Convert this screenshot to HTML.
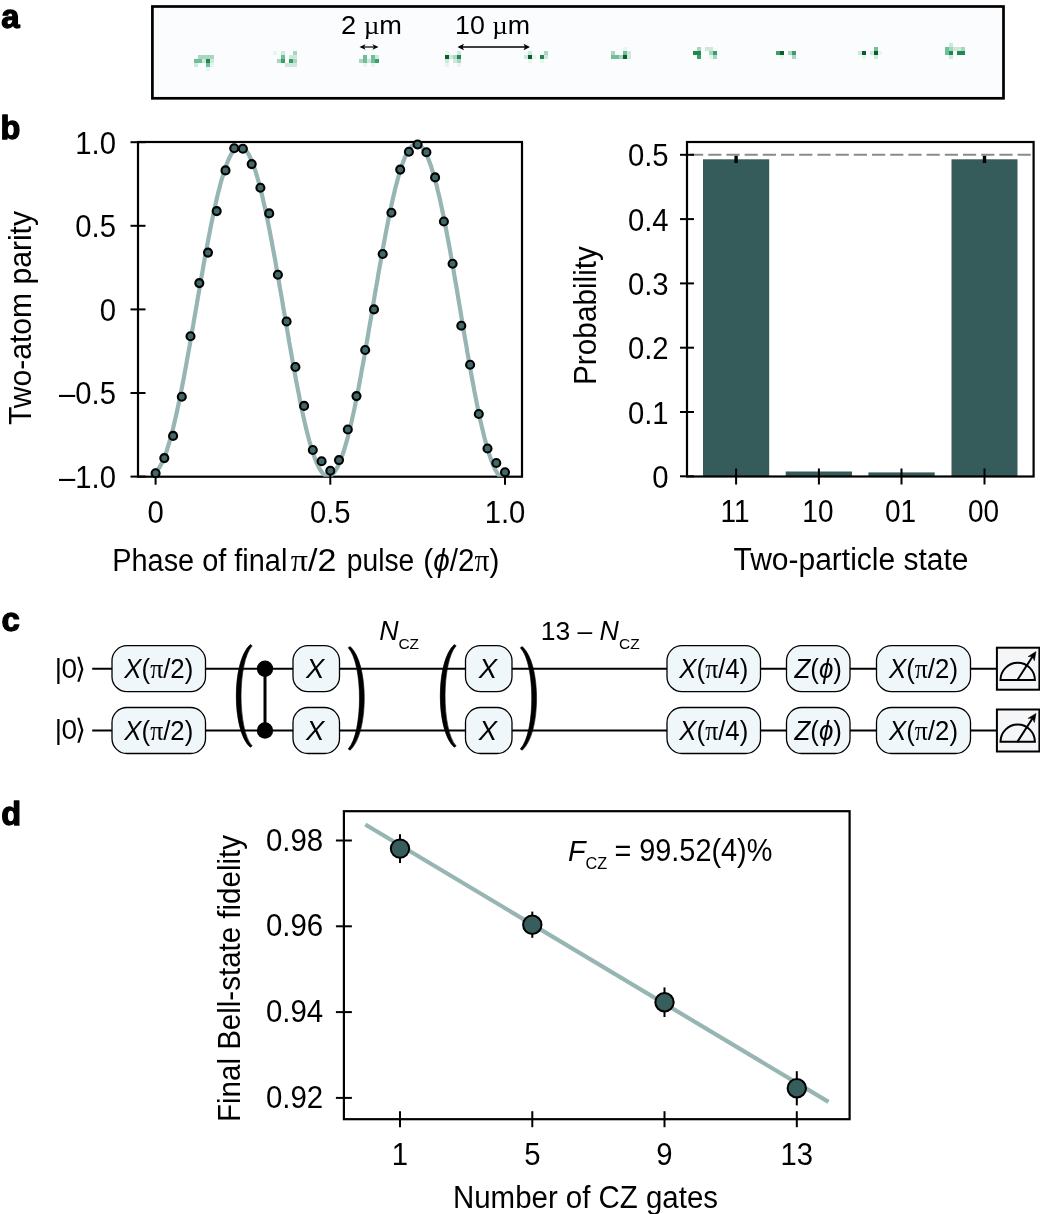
<!DOCTYPE html>
<html><head><meta charset="utf-8"><title>Figure</title>
<style>html,body{margin:0;padding:0;background:#fff}svg{display:block}text{font-family:'Liberation Sans', sans-serif;fill:#000}</style>
</head><body>
<svg style="will-change:transform" width="1040" height="1214" viewBox="0 0 1040 1214">
<rect width="1040" height="1214" fill="#fff"/>
<text x="1.3" y="28" font-size="33" font-weight="bold" stroke="#000" stroke-width="1.3" stroke-linejoin="round">a</text>
<text x="0.4" y="139" font-size="32.5" font-weight="bold" stroke="#000" stroke-width="1.3" stroke-linejoin="round">b</text>
<text x="1.4" y="631" font-size="33" font-weight="bold" stroke="#000" stroke-width="1.3" stroke-linejoin="round">c</text>
<text x="1.2" y="824.9" font-size="32.5" font-weight="bold" stroke="#000" stroke-width="1.3" stroke-linejoin="round">d</text>
<rect x="152.4" y="6.5" width="851.1" height="91.8" fill="#fbfcfd" stroke="#000" stroke-width="2.7"/>
<rect x="198" y="55" width="4" height="4" fill="#a8d6c0"/>
<rect x="202" y="55" width="4" height="4" fill="#a8d6c0"/>
<rect x="206" y="55" width="4" height="4" fill="#a8d6c0"/>
<rect x="210" y="55" width="4" height="4" fill="#a8d6c0"/>
<rect x="194" y="59" width="4" height="4" fill="#6fbf98"/>
<rect x="198" y="59" width="4" height="4" fill="#6fbf98"/>
<rect x="202" y="59" width="4" height="4" fill="#cfe8dc"/>
<rect x="206" y="59" width="4" height="4" fill="#1e8a4c"/>
<rect x="210" y="59" width="4" height="4" fill="#cfe8dc"/>
<rect x="194" y="63" width="4" height="4" fill="#cfe8dc"/>
<rect x="206" y="63" width="4" height="4" fill="#6fbf98"/>
<rect x="210" y="63" width="4" height="4" fill="#e8f4ee"/>
<rect x="206" y="67" width="4" height="4" fill="#e8f4ee"/>
<rect x="273" y="51" width="4" height="4" fill="#e8f4ee"/>
<rect x="281" y="51" width="4" height="4" fill="#cfe8dc"/>
<rect x="293" y="51" width="4" height="4" fill="#a8d6c0"/>
<rect x="281" y="55" width="4" height="4" fill="#6fbf98"/>
<rect x="289" y="55" width="4" height="4" fill="#cfe8dc"/>
<rect x="293" y="55" width="4" height="4" fill="#cfe8dc"/>
<rect x="277" y="59" width="4" height="4" fill="#a8d6c0"/>
<rect x="281" y="59" width="4" height="4" fill="#3aa06a"/>
<rect x="289" y="59" width="4" height="4" fill="#3aa06a"/>
<rect x="293" y="59" width="4" height="4" fill="#a8d6c0"/>
<rect x="285" y="63" width="4" height="4" fill="#cfe8dc"/>
<rect x="289" y="63" width="4" height="4" fill="#cfe8dc"/>
<rect x="293" y="63" width="4" height="4" fill="#cfe8dc"/>
<rect x="363" y="55" width="4" height="4" fill="#6fbf98"/>
<rect x="371" y="55" width="4" height="4" fill="#6fbf98"/>
<rect x="375" y="55" width="4" height="4" fill="#cfe8dc"/>
<rect x="359" y="59" width="4" height="4" fill="#a8d6c0"/>
<rect x="363" y="59" width="4" height="4" fill="#6fbf98"/>
<rect x="367" y="59" width="4" height="4" fill="#cfe8dc"/>
<rect x="371" y="59" width="4" height="4" fill="#6fbf98"/>
<rect x="375" y="59" width="4" height="4" fill="#3aa06a"/>
<rect x="363" y="63" width="4" height="4" fill="#e8f4ee"/>
<rect x="371" y="63" width="4" height="4" fill="#e8f4ee"/>
<rect x="445" y="51" width="4" height="4" fill="#e8f4ee"/>
<rect x="457" y="51" width="4" height="4" fill="#cfe8dc"/>
<rect x="445" y="55" width="4" height="4" fill="#0d5a2a"/>
<rect x="449" y="55" width="4" height="4" fill="#cfe8dc"/>
<rect x="453" y="55" width="4" height="4" fill="#a8d6c0"/>
<rect x="457" y="55" width="4" height="4" fill="#1e8a4c"/>
<rect x="445" y="59" width="4" height="4" fill="#cfe8dc"/>
<rect x="453" y="59" width="4" height="4" fill="#cfe8dc"/>
<rect x="457" y="59" width="4" height="4" fill="#a8d6c0"/>
<rect x="445" y="63" width="4" height="4" fill="#e8f4ee"/>
<rect x="457" y="63" width="4" height="4" fill="#e8f4ee"/>
<rect x="528" y="51" width="4" height="4" fill="#cfe8dc"/>
<rect x="544" y="51" width="4" height="4" fill="#a8d6c0"/>
<rect x="524" y="55" width="4" height="4" fill="#cfe8dc"/>
<rect x="528" y="55" width="4" height="4" fill="#0d5a2a"/>
<rect x="532" y="55" width="4" height="4" fill="#e8f4ee"/>
<rect x="540" y="55" width="4" height="4" fill="#1e8a4c"/>
<rect x="544" y="55" width="4" height="4" fill="#cfe8dc"/>
<rect x="528" y="59" width="4" height="4" fill="#e8f4ee"/>
<rect x="540" y="59" width="4" height="4" fill="#e8f4ee"/>
<rect x="611" y="51" width="4" height="4" fill="#a8d6c0"/>
<rect x="623" y="51" width="4" height="4" fill="#6fbf98"/>
<rect x="627" y="51" width="4" height="4" fill="#cfe8dc"/>
<rect x="611" y="55" width="4" height="4" fill="#6fbf98"/>
<rect x="615" y="55" width="4" height="4" fill="#6fbf98"/>
<rect x="619" y="55" width="4" height="4" fill="#a8d6c0"/>
<rect x="623" y="55" width="4" height="4" fill="#0d5a2a"/>
<rect x="627" y="55" width="4" height="4" fill="#cfe8dc"/>
<rect x="623" y="47" width="4" height="4" fill="#e8f4ee"/>
<rect x="697" y="47" width="4" height="4" fill="#a8d6c0"/>
<rect x="705" y="47" width="4" height="4" fill="#cfe8dc"/>
<rect x="709" y="47" width="4" height="4" fill="#cfe8dc"/>
<rect x="693" y="51" width="4" height="4" fill="#1e8a4c"/>
<rect x="697" y="51" width="4" height="4" fill="#1e8a4c"/>
<rect x="709" y="51" width="4" height="4" fill="#a8d6c0"/>
<rect x="713" y="51" width="4" height="4" fill="#3aa06a"/>
<rect x="697" y="55" width="4" height="4" fill="#3aa06a"/>
<rect x="709" y="55" width="4" height="4" fill="#e8f4ee"/>
<rect x="713" y="55" width="4" height="4" fill="#a8d6c0"/>
<rect x="776" y="51" width="4" height="4" fill="#3aa06a"/>
<rect x="780" y="51" width="4" height="4" fill="#0d5a2a"/>
<rect x="788" y="51" width="4" height="4" fill="#a8d6c0"/>
<rect x="792" y="51" width="4" height="4" fill="#3aa06a"/>
<rect x="792" y="55" width="4" height="4" fill="#a8d6c0"/>
<rect x="780" y="55" width="4" height="4" fill="#e8f4ee"/>
<rect x="858" y="51" width="4" height="4" fill="#cfe8dc"/>
<rect x="862" y="51" width="4" height="4" fill="#0d5a2a"/>
<rect x="870" y="51" width="4" height="4" fill="#cfe8dc"/>
<rect x="874" y="51" width="4" height="4" fill="#0d5a2a"/>
<rect x="874" y="47" width="4" height="4" fill="#6fbf98"/>
<rect x="862" y="55" width="4" height="4" fill="#e8f4ee"/>
<rect x="874" y="55" width="4" height="4" fill="#cfe8dc"/>
<rect x="878" y="51" width="4" height="4" fill="#e8f4ee"/>
<rect x="949" y="43" width="4" height="4" fill="#cfe8dc"/>
<rect x="945" y="47" width="4" height="4" fill="#6fbf98"/>
<rect x="949" y="47" width="4" height="4" fill="#a8d6c0"/>
<rect x="953" y="47" width="4" height="4" fill="#cfe8dc"/>
<rect x="957" y="47" width="4" height="4" fill="#cfe8dc"/>
<rect x="961" y="47" width="4" height="4" fill="#a8d6c0"/>
<rect x="945" y="51" width="4" height="4" fill="#6fbf98"/>
<rect x="949" y="51" width="4" height="4" fill="#1e8a4c"/>
<rect x="957" y="51" width="4" height="4" fill="#1e8a4c"/>
<rect x="961" y="51" width="4" height="4" fill="#1e8a4c"/>
<rect x="949" y="55" width="4" height="4" fill="#cfe8dc"/>
<text x="341" y="34" font-size="26" textLength="61" lengthAdjust="spacingAndGlyphs">2 <tspan font-family="Liberation Serif, serif">µ</tspan>m</text>
<text x="455" y="34" font-size="26" textLength="75" lengthAdjust="spacingAndGlyphs">10 <tspan font-family="Liberation Serif, serif">µ</tspan>m</text>
<line x1="361.5" y1="47" x2="376.5" y2="47" stroke="#000" stroke-width="1.2"/>
<path d="M359.5 47 l6 -2.8 l-1.5 2.8 l1.5 2.8z" fill="#000"/>
<path d="M378.5 47 l-6 -2.8 l1.5 2.8 l-1.5 2.8z" fill="#000"/>
<line x1="459.5" y1="47" x2="528" y2="47" stroke="#000" stroke-width="1.3"/>
<path d="M457.5 47 l6.5 -3.15 l-1.5 3.15 l1.5 3.15z" fill="#000"/>
<path d="M530 47 l-6.5 -3.15 l1.5 3.15 l-1.5 3.15z" fill="#000"/>
<rect x="138" y="142" width="384" height="334.7" fill="none" stroke="#000" stroke-width="2.2"/>
<clipPath id="cb"><rect x="138" y="142" width="384" height="334.7"/></clipPath>
<path d="M155.6 472.0 L156.5 471.2 L157.3 470.3 L158.2 469.2 L159.1 467.9 L160.0 466.5 L160.8 464.9 L161.7 463.2 L162.6 461.4 L163.5 459.3 L164.3 457.2 L165.2 454.9 L166.1 452.5 L167.0 449.9 L167.8 447.2 L168.7 444.3 L169.6 441.4 L170.4 438.3 L171.3 435.1 L172.2 431.7 L173.1 428.3 L173.9 424.7 L174.8 421.0 L175.7 417.2 L176.6 413.3 L177.4 409.3 L178.3 405.2 L179.2 401.1 L180.1 396.8 L180.9 392.4 L181.8 388.0 L182.7 383.5 L183.6 378.9 L184.4 374.3 L185.3 369.6 L186.2 364.8 L187.0 360.0 L187.9 355.1 L188.8 350.2 L189.7 345.3 L190.5 340.3 L191.4 335.3 L192.3 330.2 L193.2 325.2 L194.0 320.1 L194.9 315.0 L195.8 309.9 L196.7 304.8 L197.5 299.8 L198.4 294.7 L199.3 289.6 L200.1 284.6 L201.0 279.6 L201.9 274.6 L202.8 269.6 L203.6 264.7 L204.5 259.9 L205.4 255.0 L206.3 250.3 L207.1 245.6 L208.0 240.9 L208.9 236.4 L209.8 231.8 L210.6 227.4 L211.5 223.1 L212.4 218.8 L213.3 214.6 L214.1 210.5 L215.0 206.5 L215.9 202.7 L216.7 198.9 L217.6 195.2 L218.5 191.6 L219.4 188.2 L220.2 184.8 L221.1 181.6 L222.0 178.5 L222.9 175.6 L223.7 172.7 L224.6 170.0 L225.5 167.5 L226.4 165.0 L227.2 162.8 L228.1 160.6 L229.0 158.6 L229.8 156.8 L230.7 155.1 L231.6 153.5 L232.5 152.1 L233.3 150.9 L234.2 149.8 L235.1 148.8 L236.0 148.1 L236.8 147.4 L237.7 147.0 L238.6 146.7 L239.5 146.5 L240.3 146.5 L241.2 146.7 L242.1 147.0 L242.9 147.5 L243.8 148.2 L244.7 149.0 L245.6 149.9 L246.4 151.0 L247.3 152.3 L248.2 153.7 L249.1 155.3 L249.9 157.0 L250.8 158.9 L251.7 160.9 L252.6 163.1 L253.4 165.4 L254.3 167.8 L255.2 170.4 L256.1 173.2 L256.9 176.0 L257.8 179.0 L258.7 182.1 L259.5 185.4 L260.4 188.7 L261.3 192.2 L262.2 195.8 L263.0 199.5 L263.9 203.3 L264.8 207.2 L265.7 211.3 L266.5 215.4 L267.4 219.6 L268.3 223.9 L269.2 228.3 L270.0 232.7 L270.9 237.3 L271.8 241.9 L272.6 246.6 L273.5 251.3 L274.4 256.1 L275.3 261.0 L276.1 265.9 L277.0 270.8 L277.9 275.8 L278.8 280.8 L279.6 285.9 L280.5 291.0 L281.4 296.1 L282.3 301.2 L283.1 306.3 L284.0 311.4 L284.9 316.5 L285.8 321.7 L286.6 326.8 L287.5 331.9 L288.4 336.9 L289.2 342.0 L290.1 347.0 L291.0 352.0 L291.9 357.0 L292.7 361.9 L293.6 366.7 L294.5 371.5 L295.4 376.3 L296.2 381.0 L297.1 385.6 L298.0 390.1 L298.9 394.6 L299.7 399.0 L300.6 403.3 L301.5 407.5 L302.3 411.6 L303.2 415.6 L304.1 419.6 L305.0 423.4 L305.8 427.1 L306.7 430.7 L307.6 434.2 L308.5 437.5 L309.3 440.8 L310.2 443.9 L311.1 446.9 L312.0 449.7 L312.8 452.5 L313.7 455.0 L314.6 457.5 L315.5 459.8 L316.3 462.0 L317.2 464.0 L318.1 465.8 L318.9 467.6 L319.8 469.1 L320.7 470.5 L321.6 471.8 L322.4 472.9 L323.3 473.9 L324.2 474.6 L325.1 475.3 L325.9 475.7 L326.8 476.1 L327.7 476.2 L328.6 476.2 L329.4 476.0 L330.3 475.7 L331.2 475.2 L332.0 474.6 L332.9 473.8 L333.8 472.8 L334.7 471.7 L335.5 470.4 L336.4 469.0 L337.3 467.4 L338.2 465.7 L339.0 463.8 L339.9 461.8 L340.8 459.6 L341.7 457.3 L342.5 454.8 L343.4 452.2 L344.3 449.5 L345.1 446.6 L346.0 443.6 L346.9 440.4 L347.8 437.2 L348.6 433.8 L349.5 430.3 L350.4 426.7 L351.3 422.9 L352.1 419.1 L353.0 415.1 L353.9 411.1 L354.8 406.9 L355.6 402.7 L356.5 398.4 L357.4 394.0 L358.3 389.5 L359.1 384.9 L360.0 380.2 L360.9 375.5 L361.7 370.7 L362.6 365.9 L363.5 361.0 L364.4 356.1 L365.2 351.1 L366.1 346.1 L367.0 341.0 L367.9 335.9 L368.7 330.8 L369.6 325.7 L370.5 320.5 L371.4 315.4 L372.2 310.2 L373.1 305.0 L374.0 299.9 L374.8 294.7 L375.7 289.6 L376.6 284.5 L377.5 279.4 L378.3 274.3 L379.2 269.3 L380.1 264.3 L381.0 259.4 L381.8 254.5 L382.7 249.6 L383.6 244.8 L384.5 240.1 L385.3 235.5 L386.2 230.9 L387.1 226.4 L388.0 222.0 L388.8 217.6 L389.7 213.4 L390.6 209.2 L391.4 205.2 L392.3 201.2 L393.2 197.3 L394.1 193.6 L394.9 190.0 L395.8 186.5 L396.7 183.1 L397.6 179.8 L398.4 176.7 L399.3 173.6 L400.2 170.8 L401.1 168.0 L401.9 165.4 L402.8 162.9 L403.7 160.6 L404.5 158.4 L405.4 156.4 L406.3 154.5 L407.2 152.8 L408.0 151.2 L408.9 149.7 L409.8 148.5 L410.7 147.4 L411.5 146.4 L412.4 145.6 L413.3 145.0 L414.2 144.5 L415.0 144.2 L415.9 144.0 L416.8 144.0 L417.6 144.2 L418.5 144.5 L419.4 145.0 L420.3 145.6 L421.1 146.4 L422.0 147.4 L422.9 148.5 L423.8 149.8 L424.6 151.2 L425.5 152.8 L426.4 154.6 L427.3 156.4 L428.1 158.5 L429.0 160.7 L429.9 163.0 L430.8 165.5 L431.6 168.1 L432.5 170.9 L433.4 173.8 L434.2 176.8 L435.1 180.0 L436.0 183.2 L436.9 186.6 L437.7 190.2 L438.6 193.8 L439.5 197.6 L440.4 201.5 L441.2 205.4 L442.1 209.5 L443.0 213.7 L443.9 218.0 L444.7 222.3 L445.6 226.8 L446.5 231.3 L447.3 235.9 L448.2 240.6 L449.1 245.3 L450.0 250.1 L450.8 255.0 L451.7 259.9 L452.6 264.9 L453.5 269.9 L454.3 275.0 L455.2 280.1 L456.1 285.2 L457.0 290.4 L457.8 295.5 L458.7 300.7 L459.6 305.9 L460.5 311.1 L461.3 316.3 L462.2 321.5 L463.1 326.7 L463.9 331.9 L464.8 337.1 L465.7 342.2 L466.6 347.3 L467.4 352.4 L468.3 357.4 L469.2 362.4 L470.1 367.3 L470.9 372.2 L471.8 377.0 L472.7 381.8 L473.6 386.5 L474.4 391.1 L475.3 395.6 L476.2 400.1 L477.0 404.4 L477.9 408.7 L478.8 412.9 L479.7 417.0 L480.5 421.0 L481.4 424.9 L482.3 428.7 L483.2 432.3 L484.0 435.9 L484.9 439.3 L485.8 442.6 L486.7 445.8 L487.5 448.8 L488.4 451.7 L489.3 454.5 L490.2 457.1 L491.0 459.6 L491.9 462.0 L492.8 464.2 L493.6 466.2 L494.5 468.1 L495.4 469.9 L496.3 471.5 L497.1 472.9 L498.0 474.2 L498.9 475.3 L499.8 476.3 L500.6 477.1 L501.5 477.8 L502.4 478.3 L503.3 478.6 L504.1 478.7 L505.0 478.7" fill="none" stroke="#97b5b3" stroke-width="4.2" stroke-linecap="butt" clip-path="url(#cb)"/>
<line x1="130.5" y1="142.2" x2="145.5" y2="142.2" stroke="#000" stroke-width="2"/>
<line x1="130.5" y1="225.8" x2="145.5" y2="225.8" stroke="#000" stroke-width="2"/>
<line x1="130.5" y1="309.4" x2="145.5" y2="309.4" stroke="#000" stroke-width="2"/>
<line x1="130.5" y1="393.0" x2="145.5" y2="393.0" stroke="#000" stroke-width="2"/>
<line x1="130.5" y1="476.6" x2="145.5" y2="476.6" stroke="#000" stroke-width="2"/>
<line x1="155.6" y1="468.7" x2="155.6" y2="484.7" stroke="#000" stroke-width="2"/>
<line x1="330.3" y1="468.7" x2="330.3" y2="484.7" stroke="#000" stroke-width="2"/>
<line x1="505.0" y1="468.7" x2="505.0" y2="484.7" stroke="#000" stroke-width="2"/>
<circle cx="155.6" cy="473.3" r="4" fill="#41686a" stroke="#000" stroke-width="2.1"/>
<circle cx="164.3" cy="458.1" r="4" fill="#41686a" stroke="#000" stroke-width="2.1"/>
<circle cx="173.1" cy="435.9" r="4" fill="#41686a" stroke="#000" stroke-width="2.1"/>
<circle cx="181.8" cy="396.7" r="4" fill="#41686a" stroke="#000" stroke-width="2.1"/>
<circle cx="190.5" cy="336.2" r="4" fill="#41686a" stroke="#000" stroke-width="2.1"/>
<circle cx="199.3" cy="283.1" r="4" fill="#41686a" stroke="#000" stroke-width="2.1"/>
<circle cx="208.0" cy="252.6" r="4" fill="#41686a" stroke="#000" stroke-width="2.1"/>
<circle cx="216.7" cy="211.1" r="4" fill="#41686a" stroke="#000" stroke-width="2.1"/>
<circle cx="225.5" cy="170.4" r="4" fill="#41686a" stroke="#000" stroke-width="2.1"/>
<circle cx="234.2" cy="148.3" r="4" fill="#41686a" stroke="#000" stroke-width="2.1"/>
<circle cx="242.9" cy="148.8" r="4" fill="#41686a" stroke="#000" stroke-width="2.1"/>
<circle cx="251.7" cy="164.1" r="4" fill="#41686a" stroke="#000" stroke-width="2.1"/>
<circle cx="260.4" cy="187.7" r="4" fill="#41686a" stroke="#000" stroke-width="2.1"/>
<circle cx="269.2" cy="213.4" r="4" fill="#41686a" stroke="#000" stroke-width="2.1"/>
<circle cx="277.9" cy="274.8" r="4" fill="#41686a" stroke="#000" stroke-width="2.1"/>
<circle cx="286.6" cy="321.5" r="4" fill="#41686a" stroke="#000" stroke-width="2.1"/>
<circle cx="295.4" cy="367.0" r="4" fill="#41686a" stroke="#000" stroke-width="2.1"/>
<circle cx="304.1" cy="405.9" r="4" fill="#41686a" stroke="#000" stroke-width="2.1"/>
<circle cx="312.8" cy="450.0" r="4" fill="#41686a" stroke="#000" stroke-width="2.1"/>
<circle cx="321.6" cy="461.2" r="4" fill="#41686a" stroke="#000" stroke-width="2.1"/>
<circle cx="330.3" cy="470.7" r="4" fill="#41686a" stroke="#000" stroke-width="2.1"/>
<circle cx="339.0" cy="460.1" r="4" fill="#41686a" stroke="#000" stroke-width="2.1"/>
<circle cx="347.8" cy="429.5" r="4" fill="#41686a" stroke="#000" stroke-width="2.1"/>
<circle cx="356.5" cy="396.1" r="4" fill="#41686a" stroke="#000" stroke-width="2.1"/>
<circle cx="365.2" cy="350.0" r="4" fill="#41686a" stroke="#000" stroke-width="2.1"/>
<circle cx="374.0" cy="309.4" r="4" fill="#41686a" stroke="#000" stroke-width="2.1"/>
<circle cx="382.7" cy="254.0" r="4" fill="#41686a" stroke="#000" stroke-width="2.1"/>
<circle cx="391.4" cy="212.8" r="4" fill="#41686a" stroke="#000" stroke-width="2.1"/>
<circle cx="400.2" cy="169.6" r="4" fill="#41686a" stroke="#000" stroke-width="2.1"/>
<circle cx="408.9" cy="151.7" r="4" fill="#41686a" stroke="#000" stroke-width="2.1"/>
<circle cx="417.6" cy="144.5" r="4" fill="#41686a" stroke="#000" stroke-width="2.1"/>
<circle cx="426.4" cy="152.3" r="4" fill="#41686a" stroke="#000" stroke-width="2.1"/>
<circle cx="435.1" cy="177.4" r="4" fill="#41686a" stroke="#000" stroke-width="2.1"/>
<circle cx="443.9" cy="221.5" r="4" fill="#41686a" stroke="#000" stroke-width="2.1"/>
<circle cx="452.6" cy="263.8" r="4" fill="#41686a" stroke="#000" stroke-width="2.1"/>
<circle cx="461.3" cy="325.8" r="4" fill="#41686a" stroke="#000" stroke-width="2.1"/>
<circle cx="470.1" cy="364.7" r="4" fill="#41686a" stroke="#000" stroke-width="2.1"/>
<circle cx="478.8" cy="414.0" r="4" fill="#41686a" stroke="#000" stroke-width="2.1"/>
<circle cx="487.5" cy="448.5" r="4" fill="#41686a" stroke="#000" stroke-width="2.1"/>
<circle cx="496.3" cy="463.0" r="4" fill="#41686a" stroke="#000" stroke-width="2.1"/>
<circle cx="505.0" cy="472.2" r="4" fill="#41686a" stroke="#000" stroke-width="2.1"/>
<text x="116" y="153.5" font-size="30.6" text-anchor="end" textLength="40.7" lengthAdjust="spacingAndGlyphs">1.0</text>
<text x="116" y="237.1" font-size="30.6" text-anchor="end" textLength="40.7" lengthAdjust="spacingAndGlyphs">0.5</text>
<text x="116" y="320.7" font-size="30.6" text-anchor="end" textLength="16.3" lengthAdjust="spacingAndGlyphs">0</text>
<text x="116" y="404.3" font-size="30.6" text-anchor="end" textLength="56.9" lengthAdjust="spacingAndGlyphs">–0.5</text>
<text x="116" y="487.9" font-size="30.6" text-anchor="end" textLength="56.9" lengthAdjust="spacingAndGlyphs">–1.0</text>
<text x="155.6" y="522.8" font-size="30.6" text-anchor="middle" textLength="16.3" lengthAdjust="spacingAndGlyphs">0</text>
<text x="330.3" y="522.8" font-size="30.6" text-anchor="middle" textLength="40.7" lengthAdjust="spacingAndGlyphs">0.5</text>
<text x="505.0" y="522.8" font-size="30.6" text-anchor="middle" textLength="40.7" lengthAdjust="spacingAndGlyphs">1.0</text>
<text x="112.3" y="570.5" font-size="30.6" textLength="175" lengthAdjust="spacingAndGlyphs">Phase of final</text>
<text x="290.8" y="570.5" font-size="30.6" textLength="45.6" lengthAdjust="spacingAndGlyphs"><tspan font-family="Liberation Serif, serif">π</tspan>/2</text>
<text x="346.8" y="570.5" font-size="30.6" textLength="67.5" lengthAdjust="spacingAndGlyphs">pulse</text>
<text x="423.3" y="570.5" font-size="30.6" textLength="76" lengthAdjust="spacingAndGlyphs">(<tspan font-style="italic">ϕ</tspan>/2<tspan font-family="Liberation Serif, serif">π</tspan>)</text>
<text x="30.9" y="425" font-size="30.6" textLength="214" lengthAdjust="spacingAndGlyphs" transform="rotate(-90 30.9 425)">Two-atom parity</text>
<rect x="703" y="159.3" width="66.2" height="317.2" fill="#365b5b"/>
<rect x="785.7" y="471.5" width="66.3" height="5.0" fill="#365b5b"/>
<rect x="868.4" y="472.4" width="66.3" height="4.1" fill="#365b5b"/>
<rect x="951.5" y="159.3" width="66.0" height="317.2" fill="#365b5b"/>
<line x1="690" y1="154.8" x2="1033.6" y2="154.8" stroke="#8a8a8a" stroke-width="2.1" stroke-dasharray="13.2 5"/>
<rect x="687" y="142" width="346.5999999999999" height="334.5" fill="none" stroke="#000" stroke-width="2.2"/>
<line x1="680" y1="154.8" x2="694" y2="154.8" stroke="#000" stroke-width="2"/>
<text x="668.6" y="166.4" font-size="30.6" text-anchor="end" textLength="40.7" lengthAdjust="spacingAndGlyphs">0.5</text>
<line x1="680" y1="219.1" x2="694" y2="219.1" stroke="#000" stroke-width="2"/>
<text x="668.6" y="230.7" font-size="30.6" text-anchor="end" textLength="40.7" lengthAdjust="spacingAndGlyphs">0.4</text>
<line x1="680" y1="283.4" x2="694" y2="283.4" stroke="#000" stroke-width="2"/>
<text x="668.6" y="295.0" font-size="30.6" text-anchor="end" textLength="40.7" lengthAdjust="spacingAndGlyphs">0.3</text>
<line x1="680" y1="347.7" x2="694" y2="347.7" stroke="#000" stroke-width="2"/>
<text x="668.6" y="359.3" font-size="30.6" text-anchor="end" textLength="40.7" lengthAdjust="spacingAndGlyphs">0.2</text>
<line x1="680" y1="412.0" x2="694" y2="412.0" stroke="#000" stroke-width="2"/>
<text x="668.6" y="423.6" font-size="30.6" text-anchor="end" textLength="40.7" lengthAdjust="spacingAndGlyphs">0.1</text>
<line x1="680" y1="476.3" x2="694" y2="476.3" stroke="#000" stroke-width="2"/>
<text x="668.6" y="487.9" font-size="30.6" text-anchor="end" textLength="16.3" lengthAdjust="spacingAndGlyphs">0</text>
<line x1="736.1" y1="468.5" x2="736.1" y2="484.5" stroke="#000" stroke-width="2"/>
<text x="735.1" y="522" font-size="30.6" text-anchor="middle" textLength="29.1" lengthAdjust="spacingAndGlyphs">11</text>
<line x1="818.9" y1="468.5" x2="818.9" y2="484.5" stroke="#000" stroke-width="2"/>
<text x="817.9" y="522" font-size="30.6" text-anchor="middle" textLength="31.1" lengthAdjust="spacingAndGlyphs">10</text>
<line x1="901.5" y1="468.5" x2="901.5" y2="484.5" stroke="#000" stroke-width="2"/>
<text x="900.5" y="522" font-size="30.6" text-anchor="middle" textLength="31.1" lengthAdjust="spacingAndGlyphs">01</text>
<line x1="984.5" y1="468.5" x2="984.5" y2="484.5" stroke="#000" stroke-width="2"/>
<text x="983.5" y="522" font-size="30.6" text-anchor="middle" textLength="31.1" lengthAdjust="spacingAndGlyphs">00</text>
<line x1="736.1" y1="155.8" x2="736.1" y2="163" stroke="#000" stroke-width="3.4"/>
<line x1="984.5" y1="155.8" x2="984.5" y2="163" stroke="#000" stroke-width="3.4"/>
<text x="733.5" y="569.5" font-size="30.6" textLength="235" lengthAdjust="spacingAndGlyphs">Two-particle state</text>
<text x="596.1" y="385" font-size="30.6" textLength="139" lengthAdjust="spacingAndGlyphs" transform="rotate(-90 596.1 385)">Probability</text>
<line x1="92.2" y1="668.7" x2="997" y2="668.7" stroke="#000" stroke-width="2"/>
<line x1="92.2" y1="730.5" x2="997" y2="730.5" stroke="#000" stroke-width="2"/>
<text x="54.8 61.5 74.8" y="677.6" font-size="28">|0⟩</text>
<text x="54.8 61.5 74.8" y="739.4" font-size="28">|0⟩</text>
<rect x="112" y="645.7" width="93.5" height="46" rx="15" fill="#f0f7fa" stroke="#000" stroke-width="1.3"/>
<text x="158.8" y="677.9" font-size="27.5" text-anchor="middle" textLength="69" lengthAdjust="spacingAndGlyphs"><tspan font-style="italic">X</tspan>(<tspan font-family="Liberation Serif, serif">π</tspan>/2)</text>
<rect x="112" y="707.5" width="93.5" height="46" rx="15" fill="#f0f7fa" stroke="#000" stroke-width="1.3"/>
<text x="158.8" y="739.7" font-size="27.5" text-anchor="middle" textLength="69" lengthAdjust="spacingAndGlyphs"><tspan font-style="italic">X</tspan>(<tspan font-family="Liberation Serif, serif">π</tspan>/2)</text>
<rect x="293" y="645.7" width="46.5" height="46" rx="15" fill="#f0f7fa" stroke="#000" stroke-width="1.3"/>
<text x="315.2" y="677.9" font-size="27.5" text-anchor="middle"><tspan font-style="italic">X</tspan></text>
<rect x="293" y="707.5" width="46.5" height="46" rx="15" fill="#f0f7fa" stroke="#000" stroke-width="1.3"/>
<text x="315.2" y="739.7" font-size="27.5" text-anchor="middle"><tspan font-style="italic">X</tspan></text>
<rect x="465.5" y="645.7" width="46.5" height="46" rx="15" fill="#f0f7fa" stroke="#000" stroke-width="1.3"/>
<text x="487.8" y="677.9" font-size="27.5" text-anchor="middle"><tspan font-style="italic">X</tspan></text>
<rect x="465.5" y="707.5" width="46.5" height="46" rx="15" fill="#f0f7fa" stroke="#000" stroke-width="1.3"/>
<text x="487.8" y="739.7" font-size="27.5" text-anchor="middle"><tspan font-style="italic">X</tspan></text>
<rect x="667" y="645.7" width="93.5" height="46" rx="15" fill="#f0f7fa" stroke="#000" stroke-width="1.3"/>
<text x="713.8" y="677.9" font-size="27.5" text-anchor="middle" textLength="69" lengthAdjust="spacingAndGlyphs"><tspan font-style="italic">X</tspan>(<tspan font-family="Liberation Serif, serif">π</tspan>/4)</text>
<rect x="667" y="707.5" width="93.5" height="46" rx="15" fill="#f0f7fa" stroke="#000" stroke-width="1.3"/>
<text x="713.8" y="739.7" font-size="27.5" text-anchor="middle" textLength="69" lengthAdjust="spacingAndGlyphs"><tspan font-style="italic">X</tspan>(<tspan font-family="Liberation Serif, serif">π</tspan>/4)</text>
<rect x="786.5" y="645.7" width="63.5" height="46" rx="15" fill="#f0f7fa" stroke="#000" stroke-width="1.3"/>
<text x="818.2" y="677.9" font-size="27.5" text-anchor="middle" textLength="47.5" lengthAdjust="spacingAndGlyphs"><tspan font-style="italic">Z</tspan>(<tspan font-style="italic">ϕ</tspan>)</text>
<rect x="786.5" y="707.5" width="63.5" height="46" rx="15" fill="#f0f7fa" stroke="#000" stroke-width="1.3"/>
<text x="818.2" y="739.7" font-size="27.5" text-anchor="middle" textLength="47.5" lengthAdjust="spacingAndGlyphs"><tspan font-style="italic">Z</tspan>(<tspan font-style="italic">ϕ</tspan>)</text>
<rect x="876.5" y="645.7" width="94.0" height="46" rx="15" fill="#f0f7fa" stroke="#000" stroke-width="1.3"/>
<text x="923.5" y="677.9" font-size="27.5" text-anchor="middle" textLength="69" lengthAdjust="spacingAndGlyphs"><tspan font-style="italic">X</tspan>(<tspan font-family="Liberation Serif, serif">π</tspan>/2)</text>
<rect x="876.5" y="707.5" width="94.0" height="46" rx="15" fill="#f0f7fa" stroke="#000" stroke-width="1.3"/>
<text x="923.5" y="739.7" font-size="27.5" text-anchor="middle" textLength="69" lengthAdjust="spacingAndGlyphs"><tspan font-style="italic">X</tspan>(<tspan font-family="Liberation Serif, serif">π</tspan>/2)</text>
<line x1="265" y1="668.7" x2="265" y2="730.5" stroke="#000" stroke-width="3"/>
<circle cx="265" cy="668.7" r="8.2" fill="#000"/><circle cx="265" cy="730.5" r="8.2" fill="#000"/>
<path d="M250.22 644.60 C231.66 661.02 231.66 730.78 250.22 747.20 L252.20 746.03 C237.40 729.99 237.40 661.81 252.20 645.77z" fill="#000" stroke="#000" stroke-width="0.6" stroke-linejoin="round"/>
<path d="M350.18 646.60 C369.01 663.18 369.01 733.62 350.18 750.20 L348.20 749.03 C363.27 732.83 363.27 663.97 348.20 647.77z" fill="#000" stroke="#000" stroke-width="0.6" stroke-linejoin="round"/>
<path d="M454.22 644.60 C435.66 661.02 435.66 730.78 454.22 747.20 L456.20 746.03 C441.40 729.99 441.40 661.81 456.20 645.77z" fill="#000" stroke="#000" stroke-width="0.6" stroke-linejoin="round"/>
<path d="M522.28 646.60 C541.37 663.18 541.37 733.62 522.28 750.20 L520.30 749.03 C535.63 732.83 535.63 663.97 520.30 647.77z" fill="#000" stroke="#000" stroke-width="0.6" stroke-linejoin="round"/>
<text x="379.3" y="639.7" font-size="26.8" font-style="italic">N</text>
<text x="398.4" y="648.7" font-size="15.5">CZ</text>
<text x="540.7" y="639.7" font-size="26.5">13 –</text>
<text x="599.5" y="639.7" font-size="26.8" font-style="italic">N</text>
<text x="619.0" y="648.7" font-size="15.5">CZ</text>
<rect x="996.9" y="647.7" width="42.5" height="42" fill="#f5f6f8" stroke="#000" stroke-width="2"/>
<path d="M1000.5 680.0 A17.2 17.2 0 0 1 1034.9 680.0 Z" fill="none" stroke="#000" stroke-width="2" stroke-linejoin="miter"/>
<line x1="1017.2" y1="680.3" x2="1032.6" y2="656.5" stroke="#000" stroke-width="2"/>
<path d="M1036 651.6 L1034.4 660.8 L1032.5 656.7 L1028.1 656.5z" fill="#000" stroke="#000" stroke-width="0.5" stroke-linejoin="round"/>
<rect x="996.9" y="709.5" width="42.5" height="42" fill="#f5f6f8" stroke="#000" stroke-width="2"/>
<path d="M1000.5 741.8 A17.2 17.2 0 0 1 1034.9 741.8 Z" fill="none" stroke="#000" stroke-width="2" stroke-linejoin="miter"/>
<line x1="1017.2" y1="742.1" x2="1032.6" y2="718.3" stroke="#000" stroke-width="2"/>
<path d="M1036 713.4 L1034.4 722.6 L1032.5 718.5 L1028.1 718.3z" fill="#000" stroke="#000" stroke-width="0.5" stroke-linejoin="round"/>
<line x1="365.3" y1="824.5" x2="828.5" y2="1101.9" stroke="#97b5b3" stroke-width="4.2"/>
<rect x="343.9" y="811.2" width="505.70000000000005" height="308.0" fill="none" stroke="#000" stroke-width="2.2"/>
<line x1="335.9" y1="840.5" x2="351.9" y2="840.5" stroke="#000" stroke-width="2"/>
<text x="323.2" y="850.5" font-size="30.6" text-anchor="end" textLength="57.3" lengthAdjust="spacingAndGlyphs">0.98</text>
<line x1="335.9" y1="926.3" x2="351.9" y2="926.3" stroke="#000" stroke-width="2"/>
<text x="323.2" y="936.3" font-size="30.6" text-anchor="end" textLength="57.3" lengthAdjust="spacingAndGlyphs">0.96</text>
<line x1="335.9" y1="1012.1" x2="351.9" y2="1012.1" stroke="#000" stroke-width="2"/>
<text x="323.2" y="1022.1" font-size="30.6" text-anchor="end" textLength="57.3" lengthAdjust="spacingAndGlyphs">0.94</text>
<line x1="335.9" y1="1097.9" x2="351.9" y2="1097.9" stroke="#000" stroke-width="2"/>
<text x="323.2" y="1107.9" font-size="30.6" text-anchor="end" textLength="57.3" lengthAdjust="spacingAndGlyphs">0.92</text>
<line x1="400.0" y1="1111.2" x2="400.0" y2="1127.2" stroke="#000" stroke-width="2"/>
<text x="400.0" y="1165" font-size="30.6" text-anchor="middle" textLength="16.3" lengthAdjust="spacingAndGlyphs">1</text>
<line x1="400.0" y1="834.2" x2="400.0" y2="863.0" stroke="#000" stroke-width="2"/>
<circle cx="400.0" cy="848.6" r="9.2" fill="#375d5c" stroke="#000" stroke-width="2"/>
<line x1="532.3" y1="1111.2" x2="532.3" y2="1127.2" stroke="#000" stroke-width="2"/>
<text x="532.3" y="1165" font-size="30.6" text-anchor="middle" textLength="16.3" lengthAdjust="spacingAndGlyphs">5</text>
<line x1="532.3" y1="911.6" x2="532.3" y2="937.8000000000001" stroke="#000" stroke-width="2"/>
<circle cx="532.3" cy="924.7" r="9.2" fill="#375d5c" stroke="#000" stroke-width="2"/>
<line x1="664.5" y1="1111.2" x2="664.5" y2="1127.2" stroke="#000" stroke-width="2"/>
<text x="664.5" y="1165" font-size="30.6" text-anchor="middle" textLength="16.3" lengthAdjust="spacingAndGlyphs">9</text>
<line x1="664.5" y1="987.4000000000001" x2="664.5" y2="1017.0" stroke="#000" stroke-width="2"/>
<circle cx="664.5" cy="1002.2" r="9.2" fill="#375d5c" stroke="#000" stroke-width="2"/>
<line x1="796.8" y1="1111.2" x2="796.8" y2="1127.2" stroke="#000" stroke-width="2"/>
<text x="796.8" y="1165" font-size="30.6" text-anchor="middle" textLength="32.5" lengthAdjust="spacingAndGlyphs">13</text>
<line x1="796.8" y1="1071.2" x2="796.8" y2="1105.3999999999999" stroke="#000" stroke-width="2"/>
<circle cx="796.8" cy="1088.3" r="9.2" fill="#375d5c" stroke="#000" stroke-width="2"/>
<text x="453" y="1207.5" font-size="30.6" textLength="265" lengthAdjust="spacingAndGlyphs">Number of CZ gates</text>
<text x="240.4" y="1122" font-size="30.6" textLength="287" lengthAdjust="spacingAndGlyphs" transform="rotate(-90 240.4 1122)">Final Bell-state fidelity</text>
<text x="567.9" y="860.8" font-size="30" textLength="17.5" lengthAdjust="spacingAndGlyphs" font-style="italic">F</text>
<text x="585.4" y="869.3" font-size="16.3">CZ</text>
<text x="614.4" y="860.8" font-size="30.6" textLength="158" lengthAdjust="spacingAndGlyphs">= 99.52(4)%</text>
</svg></body></html>
